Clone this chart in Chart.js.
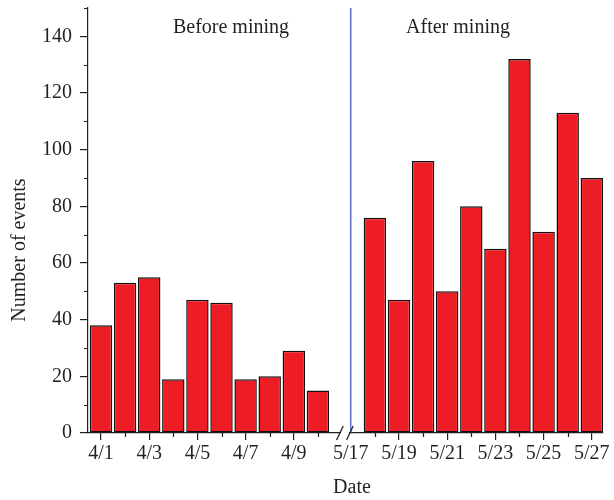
<!DOCTYPE html>
<html>
<head>
<meta charset="utf-8">
<script src="https://cdn.jsdelivr.net/npm/chart.js@4.4.1/dist/chart.umd.min.js"></script>
<style>
  html, body { margin: 0; padding: 0; background: #fff; }
  #wrap { width: 614px; height: 500px; position: relative; }
</style>
</head>
<body>
<div id="wrap"><canvas id="eventsChart"></canvas></div>
<script>
// Daily event counts before and after mining started
const beforeDays = ['4/1', '4/2', '4/3', '4/4', '4/5', '4/6', '4/7', '4/8', '4/9', '4/10'];
const beforeEvents = [38, 53, 55, 19, 47, 46, 19, 20, 29, 15];
const afterDays = ['5/18', '5/19', '5/20', '5/21', '5/22', '5/23', '5/24', '5/25', '5/26', '5/27'];
const afterEvents = [76, 47, 96, 50, 80, 65, 132, 71, 113, 90];
const dateTicks = ['4/1', '4/3', '4/5', '4/7', '4/9', '5/17', '5/19', '5/21', '5/23', '5/25', '5/27'];
const countTicks = [0, 20, 40, 60, 80, 100, 120, 140];

const FONT = '"Liberation Serif", "Times New Roman", serif';
const INK = '#231f20';

// April days sit at 0..9, May days follow after a short axis break
function dayPos(label) {
    const [m, d] = label.split('/').map(Number);
    return m === 4 ? d - 1 : d - 6.635;
}
const breakPos = 10.12;
const miningStart = dayPos('5/17');

const bars = beforeDays.map((d, i) => ({ x: dayPos(d), y: beforeEvents[i] }))
    .concat(afterDays.map((d, i) => ({ x: dayPos(d), y: afterEvents[i] })));

// keep the plot box fixed, labels may hang outside it
function noPadding(s) {
    s.paddingTop = 0;
    s.paddingBottom = 0;
    s.paddingLeft = 0;
    s.paddingRight = 0;
}

const decorations = {
    id: 'decorations',
    afterDraw(chart) {
        const { ctx, chartArea, scales: { x, y } } = chart;
        ctx.save();
        ctx.strokeStyle = INK;
        ctx.lineWidth = 1.2;

        // minor ticks
        ctx.beginPath();
        beforeDays.concat(afterDays).forEach(d => {
            if (dateTicks.includes(d)) return;
            const px = Math.round(x.getPixelForValue(dayPos(d))) + 0.5;
            ctx.moveTo(px, chartArea.bottom);
            ctx.lineTo(px, chartArea.bottom + 4);
        });
        for (let v = 10; v <= 150; v += 20) {
            const py = Math.round(y.getPixelForValue(v)) + 0.5;
            ctx.moveTo(chartArea.left, py);
            ctx.lineTo(chartArea.left - 4, py);
        }
        ctx.stroke();

        // start of mining
        const mx = x.getPixelForValue(miningStart);
        ctx.strokeStyle = '#2f4fc4';
        ctx.lineWidth = 1.2;
        ctx.beginPath();
        ctx.moveTo(mx, chartArea.top);
        ctx.lineTo(mx, chartArea.bottom);
        ctx.stroke();

        // axis break
        const bx = x.getPixelForValue(breakPos);
        const by = chartArea.bottom;
        ctx.fillStyle = '#fff';
        ctx.fillRect(bx - 4, by - 2, 8, 4);
        ctx.strokeStyle = INK;
        ctx.lineWidth = 1.3;
        ctx.beginPath();
        [-5, 5].forEach(o => {
            ctx.moveTo(bx + o - 3.3, by + 7);
            ctx.lineTo(bx + o + 3.3, by - 7);
        });
        ctx.stroke();

        // labels
        ctx.fillStyle = INK;
        ctx.font = '20px ' + FONT;
        ctx.textAlign = 'center';
        ctx.textBaseline = 'middle';
        ctx.fillText('Before mining', 231, 28);
        ctx.fillText('After mining', 458, 28);
        ctx.fillText('Date', 352, 488);
        ctx.translate(20, 250);
        ctx.rotate(-Math.PI / 2);
        ctx.fillText('Number of events', 0, 0);
        ctx.restore();
    }
};

new Chart(document.getElementById('eventsChart'), {
    type: 'bar',
    data: {
        datasets: [{
            data: bars,
            backgroundColor: '#ee1d25',
            borderColor: '#111',
            borderWidth: 1.5,
            borderSkipped: false,
            barPercentage: 0.93,
            categoryPercentage: 1
        }]
    },
    options: {
        responsive: true,
        maintainAspectRatio: false,
        animation: false,
        layout: { padding: { top: 8, right: 11, left: 0, bottom: 0 } },
        plugins: {
            legend: { display: false },
            tooltip: { enabled: false }
        },
        scales: {
            x: {
                type: 'linear',
                min: -0.54,
                max: 20.83,
                offset: false,
                afterFit: s => { s.height = 67; noPadding(s); },
                afterBuildTicks: s => { s.ticks = dateTicks.map(d => ({ value: dayPos(d) })); },
                grid: {
                    offset: false,
                    drawOnChartArea: false,
                    tickLength: 7,
                    lineWidth: 1.2,
                    tickColor: c => (c.tick && c.tick.value === miningStart) ? 'rgba(0,0,0,0)' : INK
                },
                border: { color: INK, width: 1.2 },
                ticks: {
                    autoSkip: false,
                    maxRotation: 0,
                    padding: 2,
                    color: INK,
                    font: { family: FONT, size: 20 },
                    callback: (v, i) => dateTicks[i]
                }
            },
            y: {
                min: 0,
                max: 150,
                afterFit: s => { s.width = 88; noPadding(s); },
                afterBuildTicks: s => { s.ticks = countTicks.map(v => ({ value: v })); },
                grid: {
                    drawOnChartArea: false,
                    tickLength: 8,
                    lineWidth: 1.2,
                    tickColor: INK
                },
                border: { color: INK, width: 1.2 },
                ticks: {
                    padding: 8,
                    color: INK,
                    font: { family: FONT, size: 20 }
                }
            }
        }
    },
    plugins: [decorations]
});
</script>
</body>
</html>
